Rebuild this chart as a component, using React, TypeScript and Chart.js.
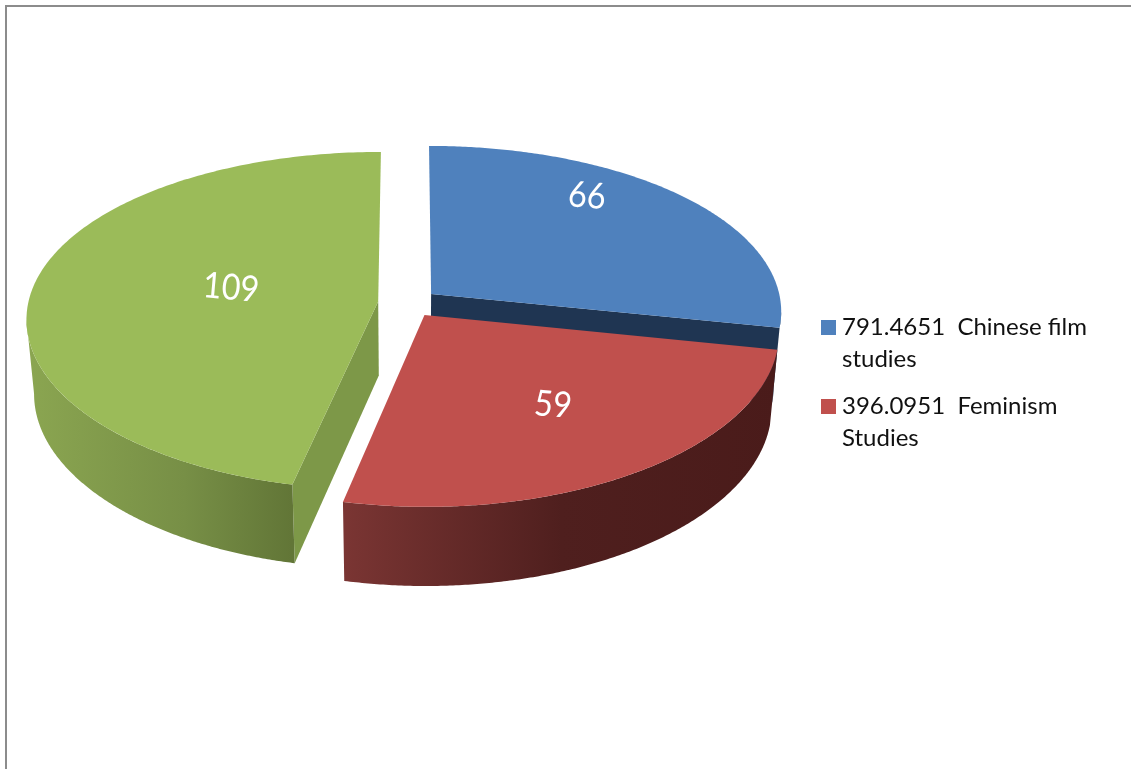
import React, { useEffect, useRef } from "react";
import { Chart, registerables } from "chart.js";

Chart.register(...registerables);

const categories = ["791.4651  Chinese film studies", "396.0951  Feminism Studies", ""];
const values = [66, 59, 109];
const topColors = ["#4f81bd", "#c0504d", "#9bbb59"];
const legendLines = [
  ["791.4651  Chinese film", "studies"],
  ["396.0951  Feminism", "Studies"],
];

const CY = 303;
const TILT = 0.477;
const PERSPECTIVE_X = 0.1;
const PERSPECTIVE_Y = 0.114;
const RADIUS = 350;
const DEPTH = 74;
const LABEL_POS = [
  [587, 196],
  [553, 405],
  [231, 288],
];
const LEGEND_Y = [320, 399];

const tilt = {
  id: "tilt",
  beforeDatasetsDraw(chart: any) {
    const ctx: CanvasRenderingContext2D = chart.ctx;
    const arcs = chart.getDatasetMeta(0).data;
    // z = 0 is the top face, z = 1 the bottom plane of the disc
    const proj = (el: any, px: number, py: number, z = 0): [number, number] => {
      const dx = px - el.x;
      const dy = py - el.y;
      const sx = 1 / (1 - (PERSPECTIVE_X * dy) / RADIUS);
      const sy = 1 / (1 - (PERSPECTIVE_Y * dy) / RADIUS);
      return [el.x + dx * sx * (1 - 0.02 * z), CY + dy * TILT * sy + z * DEPTH * (1 + (sy - 1) * 0.5)];
    };
    const geom = (el: any) => {
      const mid = (el.startAngle + el.endAngle) / 2;
      const off = el.options.offset / 4;
      const ax = el.x + Math.cos(mid) * off;
      const ay = el.y + Math.sin(mid) * off;
      return {
        apex: (z = 0) => proj(el, ax, ay, z),
        rim: (a: number, z = 0) => proj(el, ax + Math.cos(a) * el.outerRadius, ay + Math.sin(a) * el.outerRadius, z),
      };
    };
    const topFace = (el: any) => {
      const { apex, rim } = geom(el);
      const a = apex();
      ctx.beginPath();
      ctx.moveTo(a[0], a[1]);
      for (let i = 0; i <= 200; i++) {
        const p = rim(el.startAngle + ((el.endAngle - el.startAngle) * i) / 200);
        ctx.lineTo(p[0], p[1]);
      }
      ctx.closePath();
      ctx.fillStyle = el.options.backgroundColor;
      ctx.fill();
    };
    const outerWall = (el: any, from: number, to: number, fill: any) => {
      const { rim } = geom(el);
      ctx.beginPath();
      for (let i = 0; i <= 200; i++) {
        const p = rim(from + ((to - from) * i) / 200);
        if (i === 0) ctx.moveTo(p[0], p[1]);
        else ctx.lineTo(p[0], p[1]);
      }
      for (let i = 200; i >= 0; i--) {
        const p = rim(from + ((to - from) * i) / 200, 1);
        ctx.lineTo(p[0], p[1]);
      }
      ctx.closePath();
      ctx.fillStyle = fill;
      ctx.fill();
    };
    const cutWall = (el: any, angle: number, fill: string) => {
      const { apex, rim } = geom(el);
      const pts = [apex(), rim(angle), rim(angle, 1), apex(1)];
      ctx.beginPath();
      pts.forEach((p, i) => (i ? ctx.lineTo(p[0], p[1]) : ctx.moveTo(p[0], p[1])));
      ctx.closePath();
      ctx.fillStyle = fill;
      ctx.fill();
    };
    // the angle at which the rim of a slice is furthest left (sign -1) or right (sign +1)
    const silhouette = (el: any, from: number, to: number, sign: number) => {
      const { rim } = geom(el);
      let best = from;
      let bestX = -Infinity;
      for (let i = 0; i <= 400; i++) {
        const a = from + ((to - from) * i) / 400;
        const x = rim(a)[0] * sign;
        if (x > bestX) {
          bestX = x;
          best = a;
        }
      }
      return best;
    };
    const grad = (x0: number, x1: number, stops: [number, string][]) => {
      const g = ctx.createLinearGradient(x0, 0, x1, 0);
      stops.forEach(([o, c]) => g.addColorStop(o, c));
      return g;
    };
    const [blue, red, green] = arcs;

    cutWall(blue, blue.endAngle, "#1f3552");
    outerWall(blue, silhouette(blue, -0.5, blue.endAngle, 1), blue.endAngle, "#1f3552");
    topFace(blue);

    cutWall(green, green.startAngle, "#7d9848");
    outerWall(
      green,
      green.startAngle,
      silhouette(green, green.startAngle, Math.PI + 0.5, -1),
      grad(25, 291, [[0, "#8ba651"], [0.6, "#778f46"], [1, "#627637"]]),
    );
    topFace(green);

    outerWall(red, red.startAngle, red.endAngle, grad(345, 778, [[0, "#7a3533"], [0.5, "#4f1f1e"], [1, "#4a1b1a"]]));
    topFace(red);

    ctx.save();
    ctx.fillStyle = "#ffffff";
    ctx.font = "36px Lato";
    ctx.textAlign = "center";
    ctx.textBaseline = "middle";
    values.forEach((v, i) => {
      ctx.save();
      ctx.translate(LABEL_POS[i][0], LABEL_POS[i][1]);
      ctx.rotate((5 * Math.PI) / 180);
      ctx.transform(0.9, 0, 0, 1, 0, 0);
      ctx.fillText(String(v), 0, 0);
      ctx.restore();
    });
    ctx.restore();

    ctx.save();
    ctx.font = "24px Lato";
    ctx.textBaseline = "alphabetic";
    ctx.textAlign = "left";
    legendLines.forEach((lines, i) => {
      ctx.fillStyle = topColors[i];
      ctx.fillRect(821, LEGEND_Y[i], 15, 15);
      ctx.fillStyle = "#111111";
      lines.forEach((t, j) => ctx.fillText(t, 842, LEGEND_Y[i] + 15 + j * 32));
    });
    ctx.restore();
    return false;
  },
};

export default function App() {
  const ref = useRef<HTMLCanvasElement>(null);
  useEffect(() => {
    const chart = new Chart(ref.current as HTMLCanvasElement, {
      type: "pie",
      data: {
        labels: categories,
        datasets: [{ data: values, backgroundColor: topColors, borderWidth: 0, offset: 120 }],
      },
      options: {
        animation: false,
        responsive: false,
        radius: RADIUS,
        layout: { padding: { right: 315 } },
        plugins: { legend: { display: false }, tooltip: { enabled: false } },
      } as any,
      plugins: [tilt as any],
    });
    return () => chart.destroy();
  }, []);
  return (
    <div style={{ position: "fixed", left: 0, top: 0, width: 1131, height: 769, background: "#fff", overflow: "hidden" }}>
      <div style={{ position: "absolute", left: 5, top: 5, width: 1200, height: 800, borderLeft: "2px solid #8c8c8c", borderTop: "2px solid #8c8c8c" }} />
      <canvas ref={ref} width={1131} height={769} style={{ position: "absolute", left: 0, top: 0 }} />
    </div>
  );
}
